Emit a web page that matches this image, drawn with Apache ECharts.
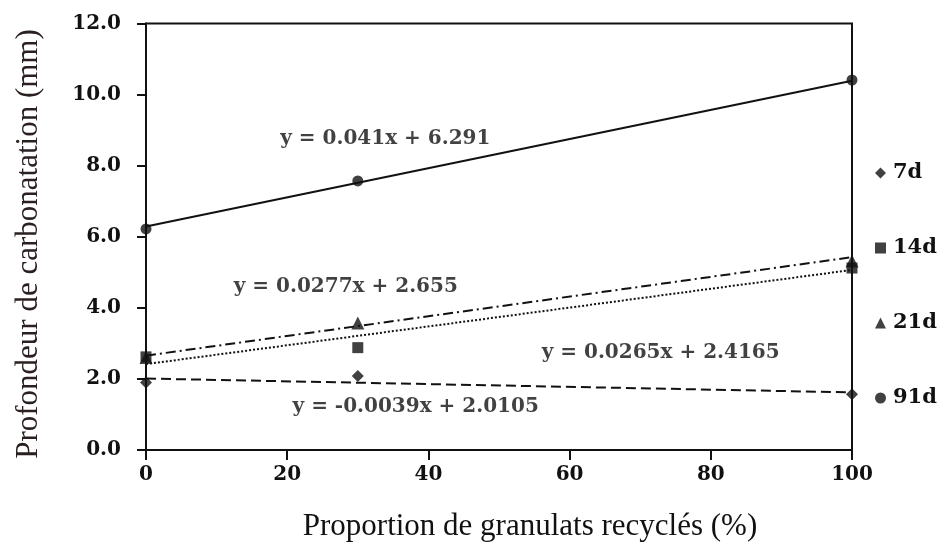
<!DOCTYPE html>
<html><head><meta charset="utf-8">
<script src="https://cdn.jsdelivr.net/npm/echarts@6/dist/echarts.min.js"></script>
<style>html,body{margin:0;padding:0;background:#fff}#c{width:939px;height:554px}</style>
</head><body><div id="c"></div>
<script>
// ---- data ----
const xValues = [0, 30, 100];
const seriesNames = ['7d', '14d', '21d', '91d'];
const d7  = [1.90, 2.08, 1.57];
const d14 = [2.62, 2.88, 5.12];
const d21 = [2.60, 3.57, 5.32];
const d91 = [6.22, 7.57, 10.41];
// trend-line end values (at x = 0 and x = 100) as shown by the printed equations
const trendX = [0, 100];
const trend7  = [2.0105, 1.6205];
const trend14 = [2.4165, 5.0665];
const trend21 = [2.655, 5.425];
const trend91 = [6.291, 10.391];
// equation annotations (text and anchor in data coordinates)
const eqLabels = ['y = 0.041x + 6.291', 'y = 0.0277x + 2.655', 'y = 0.0265x + 2.4165', 'y = -0.0039x + 2.0105'];
const eqX = [33.9, 28.3, 72.9, 38.2];
const eqY = [8.75, 4.59, 2.73, 1.21];
const xTitle = 'Proportion de granulats recyclés (%)';
const yTitle = 'Profondeur de carbonatation (mm)';

const INK = '#111';
const pts = arr => xValues.map((x, i) => [x, arr[i]]);
const trend = arr => trendX.map((x, i) => [x, arr[i]]);

const symbols = ['diamond', 'rect', 'triangle', 'circle'];
const sizes = [12, 11, 13, 11];
const dataSets = [d7, d14, d21, d91];
const trendSets = [trend7, trend14, trend21, trend91];
const lineTypes = [[10, 5], [2, 2], [10, 4, 2, 4], 'solid'];

const series = [];
seriesNames.forEach((n, i) => {
  series.push({
    name: n + ' trend', type: 'line', data: trend(trendSets[i]), showSymbol: false,
    lineStyle: { color: INK, width: 2, type: lineTypes[i] }, z: 2, silent: true
  });
});
seriesNames.forEach((n, i) => {
  series.push({
    name: n, type: 'scatter', data: pts(dataSets[i]), symbol: symbols[i], symbolSize: sizes[i],
    itemStyle: { color: INK }, z: 5
  });
});
series.push({
  name: 'eq', type: 'scatter', symbolSize: 0, z: 6, silent: true,
  data: eqLabels.map((t, i) => ({ value: [eqX[i], eqY[i]], name: t })),
  label: { show: true, position: 'inside', formatter: p => p.name, color: INK,
    fontFamily: 'DejaVu Serif', fontWeight: 'bold', fontSize: 20 }
});

const chart = echarts.init(document.getElementById('c'), null, { renderer: 'canvas' });
chart.setOption({
  animation: false,
  backgroundColor: '#fff',
  grid: { left: 146, right: 87, top: 23.5, bottom: 104, show: true, borderColor: INK, borderWidth: 2 },
  legend: {
    orient: 'vertical', left: 870, top: 157, data: seriesNames,
    itemWidth: 11, itemHeight: 11, itemGap: 53,
    textStyle: { color: INK, fontFamily: 'DejaVu Serif', fontWeight: 'bold', fontSize: 21, lineHeight: 22, padding: [0, 0, 0, 2] }
  },
  graphic: [
    { type: 'text', x: 530, y: 527, style: { text: xTitle, fill: INK, font: '31px "Liberation Serif"', textAlign: 'center', textVerticalAlign: 'middle' } },
    { type: 'text', x: 29, y: 244, rotation: Math.PI / 2, style: { text: yTitle, fill: '#2a2020', font: '31px "Liberation Serif"', textAlign: 'center', textVerticalAlign: 'middle' } }
  ],
  xAxis: {
    type: 'value', min: 0, max: 100, interval: 20,
    axisLine: { lineStyle: { color: INK, width: 2 } },
    axisTick: { length: 10, lineStyle: { color: INK, width: 2 } },
    axisLabel: { fontFamily: 'DejaVu Serif', fontWeight: 'bold', fontSize: 20, color: INK, margin: 15 },
    splitLine: { show: false }
  },
  yAxis: {
    type: 'value', min: 0, max: 12, interval: 2,
    axisLine: { lineStyle: { color: INK, width: 2 } },
    axisTick: { length: 9, lineStyle: { color: INK, width: 2 } },
    axisLabel: { fontFamily: 'DejaVu Serif', fontWeight: 'bold', fontSize: 20, color: INK, margin: 25,
      formatter: v => v.toFixed(1) },
    splitLine: { show: false }
  },
  series: series
});
</script></body></html>
